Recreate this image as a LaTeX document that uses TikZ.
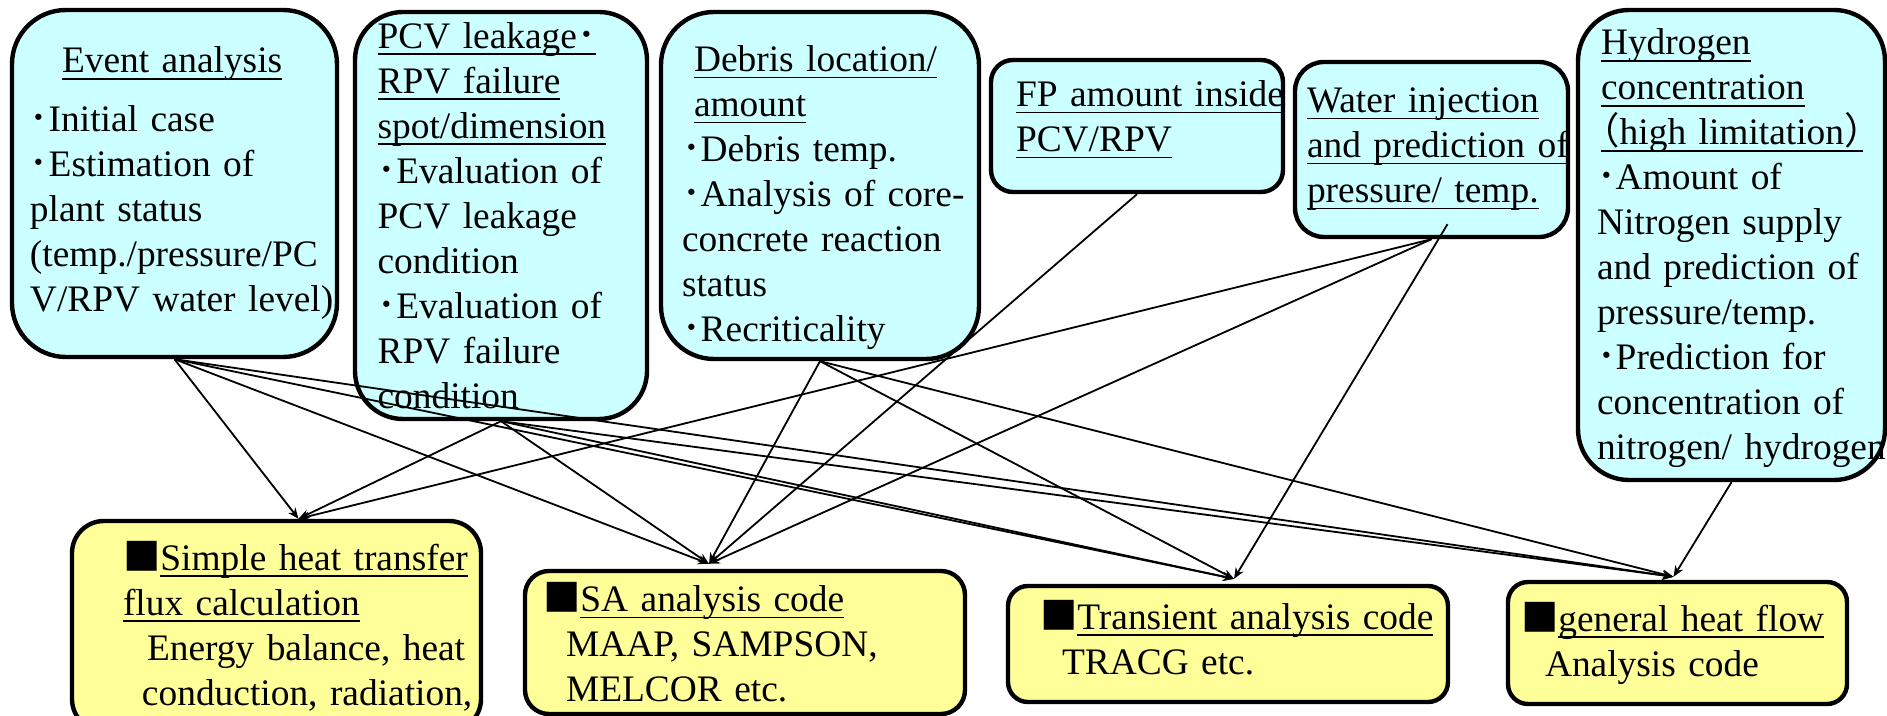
\documentclass[tikz,border=0pt]{standalone}
\usepackage{fontspec}
\setmainfont{Liberation Serif}
\newfontfamily\jpfont{Noto Sans CJK JP}
\newfontfamily\jphalf[RawFeature=+halt]{Noto Sans CJK JP}
\usetikzlibrary{arrows.meta}
\definecolor{condcyan}{HTML}{CCFFFF}
\definecolor{codeyellow}{HTML}{FFFF99}
\newcommand\bdot{{\jpfont ･}}
\newcommand\sqm{{\jpfont ■}}
\newcommand\undl[1]{\leavevmode\setbox0\hbox{#1}\rlap{\rule[-3.3pt]{\wd0}{0.7pt}}\box0}
\tikzset{
	>={Stealth[length=5.5pt,width=4.5pt]},
	every node/.style={font=\fontsize{18.7}{22.5}\selectfont},
	box/.style={draw, line width=2.2pt, align=left, inner xsep=0pt, inner ysep=0pt},
	cond/.style={box, fill=condcyan},
	code/.style={box, fill=codeyellow},
	pad/.style={execute at begin node={\leftskip=#1\hyphenpenalty=10000 }},
	link/.style={->, line width=0.9pt},
}

\begin{document}
\begin{tikzpicture}[x=0.5pt, y=-0.5pt]
	\useasboundingbox (0,0) rectangle (1887,716);
	\clip (0,0) rectangle (1887,716);

	% what has to be estimated
	\node[cond, pad=9pt, minimum width=162.5pt, text width=162.5pt, minimum height=173.5pt, rounded corners=27pt] (event) at (174.5,183.5)
		{\hspace*{16pt}\undl{Event analysis}\\[7pt]
		\bdot Initial case\\
		\bdot Estimation of\\
		plant status\\
		(temp./pressure/PC\\
		V/RPV water level)};
	\node[cond, pad=11.3pt, minimum width=146pt, text width=146pt, minimum height=203.5pt, rounded corners=24pt] (leak) at (501,215.5)
		{\undl{PCV leakage\bdot}\\
		\undl{RPV failure}\\
		\undl{spot/dimension}\\
		\bdot Evaluation of\\
		PCV leakage\\
		condition\\
		\bdot Evaluation of\\
		RPV failure\\
		condition};
	\node[cond, pad=10.5pt, minimum width=159pt, text width=159pt, minimum height=173.5pt, rounded corners=26.5pt] (debris) at (820,185.5)
		{\rule{0pt}{25pt}\hspace*{6pt}\undl{Debris location/}\\
		\hspace*{6pt}\undl{amount}\\
		\bdot Debris temp.\\
		\bdot Analysis of core-\\
		concrete reaction\\
		status\\
		\bdot Recriticality};
	\node[cond, pad=12.5pt, minimum width=146pt, text width=146pt, minimum height=66pt, rounded corners=11pt] (fp) at (1137,126)
		{\undl{FP~amount~inside}\\
		\undl{PCV/RPV}\rule[-10pt]{0pt}{0pt}};
	\node[cond, pad=6pt, minimum width=136.5pt, text width=136.5pt, minimum height=87.5pt, rounded corners=14.5pt] (water) at (1431.5,149.5)
		{\undl{Water injection}\\
		\undl{and~prediction~of}\\
		\undl{pressure/ temp.}};
	\node[cond, pad=9.5pt, minimum width=153.5pt, text width=153.5pt, minimum height=235pt, rounded corners=25.5pt] (hydro) at (1731.5,245)
		{\rule{0pt}{16.5pt}\hspace*{2pt}\undl{Hydrogen}\\
		\hspace*{2pt}\undl{concentration}\\
		\hspace*{2pt}\undl{{\jphalf （}high limitation{\jphalf ）}}\\
		\bdot Amount of\\
		Nitrogen supply\\
		and prediction of\\
		pressure/temp.\\
		\bdot Prediction for\\
		concentration of\\
		nitrogen/~hydrogen};

	% analysis codes
	\node[code, pad=25.5pt, minimum width=204.5pt, text width=204.5pt, minimum height=105pt, rounded corners=16pt] (simple) at (276.5,626)
		{\sqm\undl{Simple heat transfer}\\
		\undl{flux calculation}\\
		\hspace*{12pt}Energy balance, heat\\
		\hspace*{9.5pt}conduction, radiation,};
	\node[code, pad=9pt, minimum width=220pt, text width=220pt, minimum height=71.5pt, rounded corners=12pt] (sa) at (745,642.5)
		{\sqm\undl{SA analysis code}\\
		\hspace*{11.5pt}MAAP, SAMPSON,\\
		\hspace*{11.5pt}MELCOR etc.};
	\node[code, pad=16pt, minimum width=220pt, text width=220pt, minimum height=58pt, rounded corners=10pt] (trans) at (1228,644)
		{\sqm\undl{Transient analysis code}\\
		\hspace*{11pt}TRACG etc.\rule[-7pt]{0pt}{0pt}};
	\node[code, pad=6.5pt, minimum width=169.5pt, text width=169.5pt, minimum height=61pt, rounded corners=10pt] (heat) at (1677.5,643)
		{\sqm\undl{general heat flow}\\
		\hspace*{12pt}Analysis code};

	\coordinate (simpletip) at ([xshift=11pt]simple.north);
	\coordinate (satip) at ([xshift=-18pt,yshift=2.5pt]sa.north);
	\coordinate (transtip) at ([xshift=3pt,yshift=2.5pt]trans.north);
	\coordinate (heattip) at ([xshift=-2pt,yshift=1.5pt]heat.north);
	\coordinate (waterin) at ([xshift=8pt,yshift=7.5pt]water.south);

	\path[link] (event.south) edge (simpletip)
		(event.south) edge (satip)
		(event.south) edge (transtip)
		(event.south) edge (heattip)
		(leak.south) edge (simpletip)
		(leak.south) edge (satip)
		(leak.south) edge (transtip)
		(leak.south) edge (heattip)
		(debris.south) edge (satip)
		(debris.south) edge (transtip)
		(debris.south) edge (heattip)
		(fp.south) edge (satip)
		(water.south) edge (simpletip)
		(water.south) edge (satip)
		(waterin) edge (transtip)
		(hydro.south) edge (heattip);
\end{tikzpicture}
\end{document}
